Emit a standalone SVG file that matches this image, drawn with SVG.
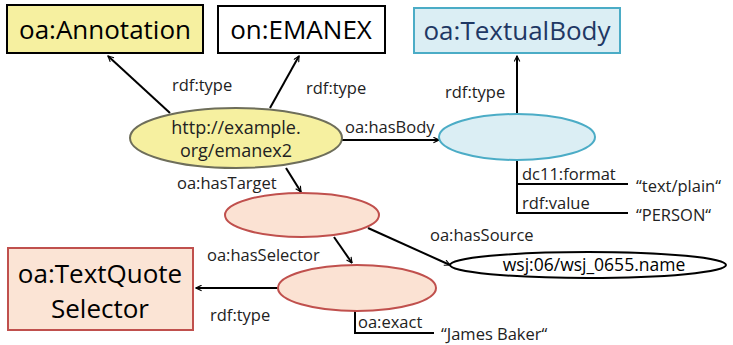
<svg xmlns="http://www.w3.org/2000/svg" width="733" height="345" viewBox="0 0 733 345">
<defs>
<marker id="arr" viewBox="0 0 10 10" refX="9" refY="5" markerWidth="7" markerHeight="7" orient="auto" markerUnits="userSpaceOnUse">
<path d="M1,1 L9,5 L1,9" fill="none" stroke="#000" stroke-width="1.6"/>
</marker>
<style>
.big{font-family:"Open Sans","Liberation Sans",sans-serif;font-size:26px;fill:#000}
.lbl{font-family:"Open Sans","Liberation Sans",sans-serif;font-size:16.5px;fill:#222}
.edge{stroke:#000;stroke-width:2;fill:none}
.plain{stroke:#000;stroke-width:2;fill:none}
</style>
</defs>
<rect width="733" height="345" fill="#fff"/>

<g id="connectors">
<line class="edge" x1="170" y1="113" x2="108" y2="56" marker-end="url(#arr)"/>
<line class="edge" x1="270" y1="108" x2="299" y2="56" marker-end="url(#arr)"/>
<line class="edge" x1="342" y1="140" x2="439" y2="140" marker-end="url(#arr)"/>
<line class="edge" x1="517" y1="114" x2="517" y2="56" marker-end="url(#arr)"/>
<polyline class="plain" points="517,160 517,213 628,213"/>
<line class="plain" x1="517" y1="184" x2="628" y2="184"/>
<line class="edge" x1="286" y1="168" x2="301" y2="192" marker-end="url(#arr)"/>
<line class="edge" x1="334" y1="237" x2="352" y2="263" marker-end="url(#arr)"/>
<line class="edge" x1="368" y1="228" x2="450" y2="265" marker-end="url(#arr)"/>
<line class="edge" x1="278" y1="288" x2="196" y2="288" marker-end="url(#arr)"/>
<polyline class="plain" points="355,310 355,333 434,333"/>
<text class="lbl" x="172" y="91">rdf:type</text>
<text class="lbl" x="306" y="94">rdf:type</text>
<text class="lbl" x="345" y="133">oa:hasBody</text>
<text class="lbl" x="445" y="98">rdf:type</text>
<text class="lbl" x="522" y="180">dc11:format</text>
<text class="lbl" x="522" y="209">rdf:value</text>
<text class="lbl" x="636" y="192">“text/plain“</text>
<text class="lbl" x="636" y="221">“PERSON“</text>
<text class="lbl" x="177" y="189">oa:hasTarget</text>
<text class="lbl" x="207" y="261">oa:hasSelector</text>
<text class="lbl" x="430" y="241">oa:hasSource</text>
<text class="lbl" x="210" y="321">rdf:type</text>
<text class="lbl" x="358" y="328">oa:exact</text>
<text class="lbl" x="441" y="340">“James Baker“</text>
</g>

<g id="oa-annotation">
<rect x="7" y="5" width="196" height="48" fill="#f6f0a0" stroke="#000" stroke-width="2"/>
<text class="big" x="105" y="39" text-anchor="middle">oa:Annotation</text>
</g>
<g id="on-emanex">
<rect x="218" y="6" width="167" height="47" fill="#fff" stroke="#000" stroke-width="2"/>
<text class="big" x="301" y="39" text-anchor="middle">on:EMANEX</text>
</g>
<g id="oa-textualbody">
<rect x="414" y="8" width="206" height="45" fill="#dbeef4" stroke="#4bacc6" stroke-width="2"/>
<text class="big" x="517" y="40" text-anchor="middle" style="fill:#1f3864">oa:TextualBody</text>
</g>
<g id="annotation-node">
<ellipse cx="236" cy="138" rx="106" ry="30" fill="#f6f0a0" stroke="#6e6e5a" stroke-width="2"/>
<text class="lbl" x="236" y="134" text-anchor="middle" style="font-size:18px">http://example.</text>
<text class="lbl" x="236" y="157" text-anchor="middle" style="font-size:18px">org/emanex2</text>
</g>
<g id="body-node">
<ellipse cx="517" cy="137" rx="78" ry="23" fill="#dbeef4" stroke="#4bacc6" stroke-width="2"/>
</g>
<g id="target-node">
<ellipse cx="302" cy="215" rx="77" ry="22" fill="#fbe2d3" stroke="#c0504d" stroke-width="2"/>
</g>
<g id="selector-node">
<ellipse cx="357" cy="288" rx="79" ry="23" fill="#fbe2d3" stroke="#c0504d" stroke-width="2"/>
</g>
<g id="source-node">
<ellipse cx="588" cy="265" rx="138" ry="13" fill="#fff" stroke="#000" stroke-width="2"/>
<text class="lbl" x="594" y="271" text-anchor="middle" style="font-size:17.5px;fill:#000">wsj:06/wsj_0655.name</text>
</g>
<g id="textquoteselector">
<rect x="8" y="248" width="185" height="82" fill="#fbe4d5" stroke="#c0504d" stroke-width="2"/>
<text class="big" x="100" y="283" text-anchor="middle">oa:TextQuote</text>
<text class="big" x="100" y="318" text-anchor="middle">Selector</text>
</g>
</svg>
